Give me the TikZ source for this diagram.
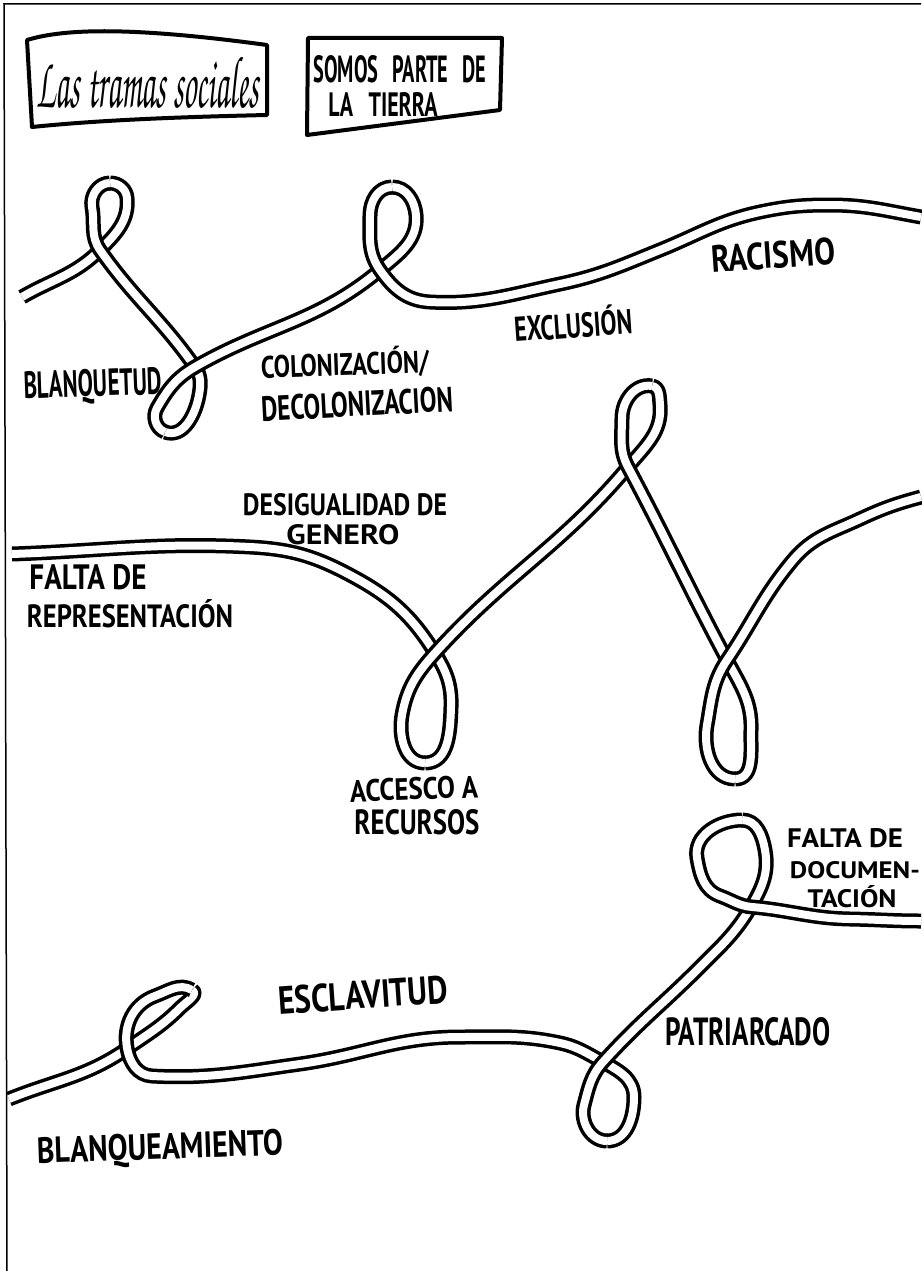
\documentclass[tikz,border=0pt]{standalone}
\usepackage{fontspec}
\usepackage{graphicx}
\newfontfamily\handfont{PT Sans}
\newfontfamily\titlefont{TeX Gyre Chorus}
\newcommand{\hlbl}[3]{\resizebox{#1pt}{#2pt}{\handfont\bfseries #3}}
\begin{document}
\begin{tikzpicture}[x=1pt,y=1pt,
  ribbon/.style={draw=black, line width=3.5pt, double=white, double distance=8pt, line join=round},
  boxline/.style={line width=4pt, line join=round, line cap=round},
  lab/.style={inner sep=0pt}]
\useasboundingbox (0,0) rectangle (921,-1271);
\fill[white] (0,0) rectangle (921,-1271);
\draw[line width=1.5pt] (921,-4) -- (4,-4) -- (7,-1271);

% title boxes
\draw[boxline] (27,-40) .. controls (60,-30) and (120,-25) .. (267,-45) -- (267,-115) .. controls (180,-117) and (100,-120) .. (32,-127) -- cycle;
\node[lab] (title) at (148,-83) {\resizebox{222pt}{50pt}{\titlefont Las tramas sociales}};
\draw[boxline] (308,-38) -- (502,-38) -- (500,-110) -- (307,-135) -- cycle;
\node[lab] (somos) at (400,-69) {\hlbl{173}{27}{SOMOS\hspace{0.7em}PARTE\hspace{0.7em}DE}};
\node[lab] (tierra) at (383,-104) {\hlbl{109}{24}{LA\hspace{0.7em}TIERRA}};

% ribbon 1
\coordinate (r1a) at (22,-297);
\coordinate (r1b) at (100,-250);
\coordinate (r1c) at (127,-198);
\coordinate (r1d) at (110,-183);
\coordinate (r1e) at (92,-207);
\coordinate (r1f) at (100,-250);
\coordinate (r1g) at (195,-367);
\coordinate (r1h) at (199,-395);
\coordinate (r1i) at (165,-432);
\coordinate (r1j) at (157,-408);
\coordinate (r1k) at (195,-367);
\coordinate (r1l) at (380,-270);
\coordinate (r1m) at (416,-215);
\coordinate (r1n) at (392,-187);
\coordinate (r1o) at (370,-215);
\coordinate (r1p) at (380,-270);
\coordinate (r1q) at (430,-302);
\coordinate (r1r) at (560,-284);
\coordinate (r1s) at (660,-250);
\coordinate (r1t) at (760,-212);
\coordinate (r1u) at (830,-205);
\coordinate (r1v) at (921,-217);
\draw[ribbon] (r1a) to[out=30,in=225] (r1b) to[out=45,in=275] (r1c) to[out=95,in=0] (r1d);
\draw[ribbon] (r1d) to[out=180,in=100] (r1e) to[out=-80,in=125] (r1f) to[out=-55,in=125] (r1g) to[out=-55,in=80] (r1h) to[out=-100,in=340] (r1i);
\draw[ribbon] (r1i) to[out=160,in=240] (r1j) to[out=60,in=210] (r1k) to[out=30,in=220] (r1l) to[out=40,in=275] (r1m) to[out=95,in=0] (r1n);
\draw[ribbon] (r1n) to[out=180,in=90] (r1o) to[out=-90,in=125] (r1p) to[out=-55,in=177] (r1q) to[out=-3,in=192] (r1r) to[out=12,in=202] (r1s) to[out=22,in=192] (r1t) to[out=12,in=180] (r1u) to[out=0,in=170] (r1v);

% ribbon 2
\coordinate (s2a) at (12,-554);
\coordinate (s2b) at (250,-547);
\coordinate (s2c) at (350,-575);
\coordinate (s2d) at (435,-653);
\coordinate (s2e) at (451,-707);
\coordinate (s2f) at (425,-763);
\coordinate (s2g) at (402,-715);
\coordinate (s2h) at (435,-653);
\coordinate (s2i) at (628,-467);
\coordinate (s2j) at (660,-405);
\coordinate (s2k) at (652,-386);
\coordinate (s2l) at (622,-418);
\coordinate (s2m) at (628,-467);
\coordinate (s2n) at (727,-660);
\coordinate (s2o) at (751,-730);
\coordinate (s2p) at (735,-779);
\coordinate (s2q) at (707,-725);
\coordinate (s2r) at (727,-660);
\coordinate (s2s) at (793,-560);
\coordinate (s2t) at (860,-519);
\coordinate (s2u) at (921,-497);
\draw[ribbon] (s2a) to[out=2,in=177] (s2b) to[out=-3,in=152] (s2c) to[out=-28,in=122] (s2d) to[out=-58,in=88] (s2e) to[out=-92,in=0] (s2f);
\draw[ribbon] (s2f) to[out=180,in=260] (s2g) to[out=80,in=228] (s2h) to[out=48,in=230] (s2i) to[out=50,in=275] (s2j) to[out=95,in=350] (s2k);
\draw[ribbon] (s2k) to[out=170,in=90] (s2l) to[out=-90,in=118] (s2m) to[out=-62,in=118] (s2n) to[out=-62,in=88] (s2o) to[out=-92,in=0] (s2p);
\draw[ribbon] (s2p) to[out=180,in=260] (s2q) to[out=80,in=236] (s2r) to[out=56,in=230] (s2s) to[out=50,in=205] (s2t) to[out=25,in=195] (s2u);

% ribbon 3
\coordinate (t3a) at (9,-1099);
\coordinate (t3b) at (128,-1048);
\coordinate (t3c) at (180,-1008);
\coordinate (t3d) at (192,-990);
\coordinate (t3e) at (155,-996);
\coordinate (t3f) at (127,-1048);
\coordinate (t3g) at (152,-1076);
\coordinate (t3h) at (300,-1064);
\coordinate (t3i) at (460,-1037);
\coordinate (t3j) at (560,-1043);
\coordinate (t3k) at (603,-1062);
\coordinate (t3l) at (634,-1097);
\coordinate (t3m) at (607,-1141);
\coordinate (t3n) at (584,-1105);
\coordinate (t3o) at (603,-1062);
\coordinate (t3p) at (700,-967);
\coordinate (t3q) at (752,-905);
\coordinate (t3r) at (765,-850);
\coordinate (t3s) at (742,-820);
\coordinate (t3t) at (697,-858);
\coordinate (t3u) at (720,-896);
\coordinate (t3v) at (752,-907);
\coordinate (t3w) at (850,-919);
\coordinate (t3x) at (921,-921);
\draw[ribbon] (t3a) to[out=22,in=215] (t3b) to[out=35,in=225] (t3c) to[out=45,in=330] (t3d);
\draw[ribbon] (t3d) to[out=150,in=20] (t3e) to[out=200,in=100] (t3f) to[out=-80,in=177] (t3g) to[out=-3,in=188] (t3h) to[out=8,in=180] (t3i) to[out=0,in=168] (t3j) to[out=-12,in=152] (t3k) to[out=-28,in=90] (t3l) to[out=-90,in=0] (t3m);
\draw[ribbon] (t3m) to[out=180,in=255] (t3n) to[out=75,in=228] (t3o) to[out=48,in=225] (t3p) to[out=45,in=240] (t3q) to[out=60,in=280] (t3r) to[out=100,in=0] (t3s);
\draw[ribbon] (t3s) to[out=180,in=100] (t3t) to[out=-80,in=160] (t3u) to[out=-20,in=175] (t3v) to[out=-5,in=179] (t3w) to[out=-1,in=180] (t3x);

% labels
\node[lab,rotate=2] (blanquetud) at (93,-387) {\hlbl{138}{27}{BLANQUETUD}};
\node[lab,rotate=2] (coloniz) at (345,-364) {\hlbl{168}{27}{COLONIZACIÓN/}};
\node[lab,rotate=3] (decoloniz) at (357,-404) {\hlbl{192}{25}{DECOLONIZACION}};
\node[lab,rotate=4] (exclusion) at (573,-323) {\hlbl{118}{30}{EXCLUSIÓN}};
\node[lab,rotate=4] (racismo) at (773,-255) {\hlbl{124}{27}{RACISMO}};
\node[lab] (desig) at (345,-505) {\hlbl{204}{22}{DESIGUALIDAD DE}};
\node[lab] (genero) at (343,-535) {\hlbl{113}{20}{GENERO}};
\node[lab] (falta1) at (88,-577) {\hlbl{117}{25}{FALTA DE}};
\node[lab] (repres) at (130,-614) {\hlbl{206}{28}{REPRESENTACIÓN}};
\node[lab,rotate=2] (acceso) at (414,-789) {\hlbl{128}{22}{ACCESCO A}};
\node[lab] (recursos) at (417,-822) {\hlbl{125}{25}{RECURSOS}};
\node[lab] (falta2) at (845,-838) {\hlbl{116}{19}{FALTA DE}};
\node[lab] (docu) at (855,-870) {\hlbl{130}{17}{DOCUMEN-}};
\node[lab] (tacion) at (852,-897) {\hlbl{89}{22}{TACIÓN}};
\node[lab] (patri) at (748,-1032) {\hlbl{165}{28}{PATRIARCADO}};
\node[lab,rotate=4] (esclav) at (363,-995) {\hlbl{170}{28}{ESCLAVITUD}};
\node[lab,rotate=2] (blanqueam) at (160,-1150) {\hlbl{246}{26}{BLANQUEAMIENTO}};
\end{tikzpicture}
\end{document}
